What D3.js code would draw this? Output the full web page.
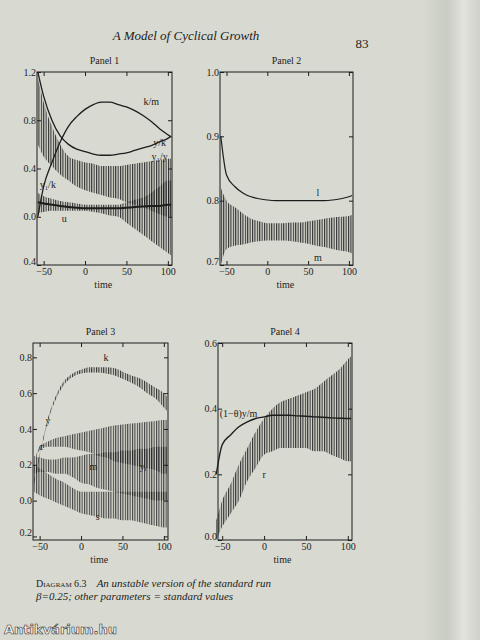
<!DOCTYPE html>
<html><head><meta charset="utf-8">
<script src="https://cdn.jsdelivr.net/npm/d3@7"></script>
<style>body{margin:0;background:#d6d8cf}svg{display:block}</style>
</head><body>
<script>
// ---- data ----
const xTicks = [-50, 0, 50, 100];
const p1YTicks = [1.2, 0.8, 0.4, 0.0, -0.4];
const p1YLabels = ["1.2", "0.8", "0.4", "0.0", "0.4"];
const p2YTicks = [1.0, 0.9, 0.8, 0.7];
const p3YTicks = [0.8, 0.6, 0.4, 0.2, 0.0, -0.2];
const p3YLabels = ["0.8", "0.6", "0.4", "0.2", "0.0", "0.2"];
const p4YTicks = [0.6, 0.4, 0.2, 0.0];

const tLine = [-57, -50, -40, -30, -20, -10, 0, 10, 20, 30, 40, 50, 60, 70, 80, 90, 100, 104];
const p1KM = [0.0, 0.25, 0.45, 0.62, 0.75, 0.83, 0.89, 0.93, 0.95, 0.95, 0.93, 0.91, 0.88, 0.84, 0.79, 0.73, 0.68, 0.66];
const p1YK = [1.2, 1.0, 0.8, 0.67, 0.6, 0.56, 0.54, 0.52, 0.51, 0.51, 0.52, 0.53, 0.55, 0.57, 0.59, 0.62, 0.65, 0.67];
const p1U = [0.12, 0.11, 0.1, 0.09, 0.08, 0.075, 0.07, 0.07, 0.07, 0.07, 0.07, 0.075, 0.08, 0.085, 0.09, 0.09, 0.1, 0.1];
const p2L = [0.9, 0.84, 0.822, 0.812, 0.806, 0.803, 0.801, 0.8, 0.8, 0.8, 0.8, 0.8, 0.8, 0.8, 0.801, 0.803, 0.806, 0.808];
const p4Y = [0.2, 0.29, 0.32, 0.345, 0.36, 0.37, 0.375, 0.38, 0.38, 0.38, 0.378, 0.377, 0.375, 0.374, 0.372, 0.371, 0.37, 0.37];

const tBand = [-57, -50, -40, -30, -20, -10, 0, 10, 20, 30, 40, 50, 60, 70, 80, 90, 100, 104];
const p1B1Hi = [1.15, 0.95, 0.75, 0.6, 0.5, 0.47, 0.45, 0.44, 0.42, 0.42, 0.42, 0.43, 0.44, 0.45, 0.46, 0.47, 0.48, 0.48];
const p1B1Lo = [0.6, 0.5, 0.42, 0.35, 0.3, 0.25, 0.22, 0.2, 0.18, 0.16, 0.15, 0.12, 0.1, 0.08, 0.05, 0.02, 0.0, 0.0];
const p1B2Hi = [0.2, 0.17, 0.15, 0.13, 0.12, 0.11, 0.1, 0.1, 0.1, 0.1, 0.1, 0.12, 0.14, 0.16, 0.2, 0.25, 0.3, 0.3];
const p1B2Lo = [0.03, 0.04, 0.05, 0.05, 0.05, 0.05, 0.05, 0.04, 0.03, 0.01, 0.0, -0.05, -0.1, -0.15, -0.2, -0.25, -0.3, -0.32];
const p2MHi = [0.82, 0.8, 0.79, 0.78, 0.772, 0.768, 0.765, 0.765, 0.765, 0.766, 0.766, 0.768, 0.77, 0.772, 0.774, 0.775, 0.776, 0.778];
const p2MLo = [0.7, 0.725, 0.73, 0.732, 0.735, 0.737, 0.738, 0.738, 0.738, 0.737, 0.735, 0.733, 0.73, 0.728, 0.725, 0.722, 0.72, 0.718];
const p3KHi = [0.12, 0.26, 0.46, 0.59, 0.67, 0.71, 0.73, 0.745, 0.745, 0.745, 0.74, 0.72, 0.7, 0.685, 0.66, 0.63, 0.6, 0.58];
const p3KLo = [0.08, 0.24, 0.44, 0.57, 0.65, 0.69, 0.71, 0.715, 0.715, 0.71, 0.7, 0.68, 0.66, 0.635, 0.6, 0.57, 0.52, 0.5];
const p3YHi = [0.2, 0.3, 0.33, 0.35, 0.36, 0.37, 0.38, 0.39, 0.4, 0.41, 0.42, 0.425, 0.43, 0.435, 0.44, 0.445, 0.45, 0.45];
const p3YLo = [0.2, 0.28, 0.3, 0.3, 0.3, 0.29, 0.28, 0.27, 0.25, 0.24, 0.22, 0.21, 0.2, 0.19, 0.18, 0.17, 0.15, 0.15];
const p3MHi = [0.25, 0.24, 0.23, 0.23, 0.24, 0.24, 0.25, 0.26, 0.26, 0.27, 0.27, 0.28, 0.28, 0.29, 0.29, 0.3, 0.3, 0.3];
const p3MLo = [0.15, 0.16, 0.16, 0.15, 0.15, 0.13, 0.1, 0.09, 0.07, 0.06, 0.05, 0.04, 0.03, 0.02, 0.01, 0.0, 0.0, 0.0];
const p3SHi = [0.2, 0.18, 0.15, 0.12, 0.1, 0.07, 0.05, 0.05, 0.05, 0.05, 0.05, 0.05, 0.05, 0.05, 0.05, 0.05, 0.05, 0.05];
const p3SLo = [0.05, 0.03, 0.01, -0.01, -0.03, -0.05, -0.07, -0.08, -0.09, -0.1, -0.1, -0.11, -0.11, -0.12, -0.13, -0.14, -0.15, -0.15];
const p4RHi = [0.06, 0.12, 0.17, 0.23, 0.28, 0.33, 0.37, 0.4, 0.42, 0.43, 0.44, 0.45, 0.46, 0.48, 0.5, 0.52, 0.55, 0.56];
const p4RLo = [0.0, 0.04, 0.08, 0.12, 0.18, 0.22, 0.26, 0.27, 0.28, 0.28, 0.28, 0.28, 0.27, 0.27, 0.26, 0.25, 0.24, 0.24];

const W = 480, H = 640;
const svg = d3.select("body").append("svg").attr("width", W).attr("height", H);
const defs = svg.append("defs");
const pat = defs.append("pattern").attr("id", "vh").attr("patternUnits", "userSpaceOnUse")
  .attr("width", 2.4).attr("height", 10);
pat.append("rect").attr("x", 0).attr("y", 0).attr("width", 1.1).attr("height", 10).attr("fill", "#1b1b1b");
const grad = defs.append("linearGradient").attr("id", "edge").attr("x1", 0).attr("x2", 1);
grad.append("stop").attr("offset", 0).attr("stop-color", "#d6d8cf");
grad.append("stop").attr("offset", 0.4).attr("stop-color", "#c9ccc3");
grad.append("stop").attr("offset", 0.7).attr("stop-color", "#e2e3dc");
grad.append("stop").attr("offset", 1).attr("stop-color", "#cfd1c8");
svg.append("rect").attr("width", W).attr("height", H).attr("fill", "#d8dad1");
svg.append("rect").attr("x", 425).attr("width", 55).attr("height", H).attr("fill", "url(#edge)");

const serif = "'Liberation Serif', 'DejaVu Serif', serif";
const ink = "#1d1d1d";

svg.append("text").attr("x", 186).attr("y", 40).attr("text-anchor", "middle")
  .attr("font-family", serif).attr("font-style", "italic").attr("font-size", 13).attr("fill", ink)
  .text("A Model of Cyclical Growth");
svg.append("text").attr("x", 362).attr("y", 48).attr("text-anchor", "middle")
  .attr("font-family", serif).attr("font-size", 13).attr("fill", ink).text("83");

function panel(o) {
  const x = d3.scaleLinear().domain(o.xd).range([o.l, o.r]);
  const y = d3.scaleLinear().domain(o.yd).range([o.b, o.t]);
  const g = svg.append("g");
  g.append("text").attr("x", (o.l + o.r) / 2).attr("y", o.t - 8).attr("text-anchor", "middle")
    .attr("font-family", serif).attr("font-size", 10).attr("fill", ink).text(o.title);
  o.bands.forEach(bd => {
    const data = tBand.map((t, i) => [t, bd.hi[i], bd.lo[i]]);
    g.append("path").datum(data)
      .attr("d", d3.area().x(d => x(d[0])).y0(d => y(d[2])).y1(d => y(d[1])).curve(d3.curveMonotoneX))
      .attr("fill", "url(#vh)").attr("opacity", bd.op || 0.9);
  });
  o.lines.forEach(ln => {
    const data = tLine.map((t, i) => [t, ln.v[i]]);
    g.append("path").datum(data)
      .attr("d", d3.line().x(d => x(d[0])).y(d => y(d[1])).curve(d3.curveMonotoneX))
      .attr("fill", "none").attr("stroke", ink).attr("stroke-width", ln.w || 1.3);
  });
  o.labels.forEach(lb => {
    g.append("text").attr("x", x(lb[1])).attr("y", y(lb[2])).attr("font-family", serif)
      .attr("font-size", 10).attr("fill", ink).attr("text-anchor", lb[3] || "middle").text(lb[0]);
  });
  g.append("rect").attr("x", o.l).attr("y", o.t).attr("width", o.r - o.l).attr("height", o.b - o.t)
    .attr("fill", "none").attr("stroke", ink).attr("stroke-width", 1);
  const xa = d3.axisBottom(x).tickValues(xTicks).tickSizeInner(-4).tickSizeOuter(0)
    .tickFormat(d => d < 0 ? "\u2212" + Math.abs(d) : d);
  const gx = g.append("g").attr("transform", `translate(0,${o.b})`).call(xa);
  gx.select(".domain").remove();
  gx.selectAll("text").attr("font-family", serif).attr("font-size", 10).attr("fill", ink).attr("y", 3).attr("dy", "0.71em");
  const gxt = g.append("g").attr("transform", `translate(0,${o.t})`).call(d3.axisTop(x).tickValues(xTicks).tickSizeInner(-4).tickSizeOuter(0).tickFormat(""));
  gxt.select(".domain").remove();
  const ya = d3.axisLeft(y).tickValues(o.yt).tickSizeInner(-4).tickSizeOuter(0)
    .tickFormat((d, i) => o.yl[i]);
  const gy = g.append("g").attr("transform", `translate(${o.l},0)`).call(ya);
  gy.select(".domain").remove();
  gy.selectAll("text").attr("font-family", serif).attr("font-size", 10).attr("fill", ink)
    .attr("x", -1).attr("dx", 0).attr("text-anchor", "end")
    .attr("dy", (d, i) => i === o.yt.length - 1 ? "-0.1em" : "0.32em");
  const gyr = g.append("g").attr("transform", `translate(${o.r},0)`).call(d3.axisRight(y).tickValues(o.yt).tickSizeInner(-4).tickSizeOuter(0).tickFormat(""));
  gyr.select(".domain").remove();
  g.selectAll(".tick line").attr("stroke", ink);
  g.append("text").attr("x", x(22)).attr("y", o.b + 23).attr("font-family", serif).attr("font-size", 10)
    .attr("fill", ink).attr("text-anchor", "middle").text("time");
}

panel({title: "Panel 1", l: 37, r: 172, t: 72, b: 265, xd: [-58, 105], yd: [-0.4, 1.2],
  yt: p1YTicks, yl: p1YLabels,
  bands: [{hi: p1B1Hi, lo: p1B1Lo}, {hi: p1B2Hi, lo: p1B2Lo}],
  lines: [{v: p1KM}, {v: p1YK}, {v: p1U, w: 2.0}],
  labels: [["k/m", 80, 0.93], ["y/k", 90, 0.59], ["y\u2081/y", 90, 0.47], ["y\u2081/k", -45, 0.24], ["u", -25, -0.04]]});
panel({title: "Panel 2", l: 220, r: 353, t: 72, b: 265, xd: [-58, 105], yd: [0.7, 1.0],
  yt: p2YTicks, yl: ["1.0", "0.9", "0.8", "0.7"],
  bands: [{hi: p2MHi, lo: p2MLo}],
  lines: [{v: p2L, w: 1.2}],
  labels: [["l", 62, 0.808], ["m", 62, 0.706]]});
panel({title: "Panel 3", l: 33, r: 168, t: 343, b: 540, xd: [-58, 105], yd: [-0.22, 0.88],
  yt: p3YTicks, yl: p3YLabels,
  bands: [{hi: p3KHi, lo: p3KLo}, {hi: p3YHi, lo: p3YLo, op: 0.8}, {hi: p3MHi, lo: p3MLo, op: 0.8}, {hi: p3SHi, lo: p3SLo, op: 0.8}],
  lines: [],
  labels: [["k", 30, 0.78], ["y", -40, 0.43], ["c", -48, 0.28], ["m", 15, 0.17], ["y\u1D62", 75, 0.17], ["s", 20, -0.11]]});
panel({title: "Panel 4", l: 218, r: 352, t: 343, b: 540, xd: [-55, 105], yd: [0, 0.6],
  yt: p4YTicks, yl: ["0.6", "0.4", "0.2", "0.0"],
  bands: [{hi: p4RHi, lo: p4RLo}],
  lines: [{v: p4Y, w: 1.4}],
  labels: [["(1\u2212\u03B8)y/m", -53, 0.375, "start"], ["r", 0, 0.19]]});

const cap = svg.append("g").attr("font-family", serif).attr("font-size", 11).attr("fill", ink);
cap.append("text").attr("x", 36).attr("y", 587).html('<tspan font-variant="small-caps" font-size="10">Diagram 6.3</tspan><tspan dx="10" font-style="italic">An unstable version of the standard run</tspan>');
cap.append("text").attr("x", 36).attr("y", 600).attr("font-style", "italic").text("\u03B2=0.25; other parameters = standard values");
svg.append("text").attr("x", 4).attr("y", 634).attr("font-family", "'DejaVu Sans', sans-serif")
  .attr("font-weight", "bold").attr("font-size", 13).attr("fill", "#f4f4f4").attr("stroke", "#333").attr("stroke-width", 0.6)
  .text("Antikvárium.hu");
</script>
</body></html>
